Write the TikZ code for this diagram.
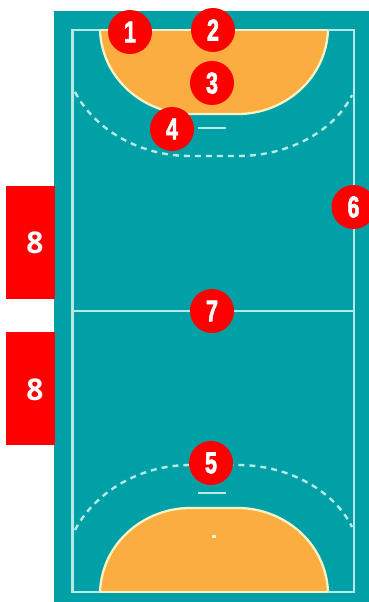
\documentclass[tikz,border=0pt]{standalone}
\usepackage{fontspec}
\setmainfont{Liberation Sans}
\newfontfamily\sidefont{Open Sans}
\newfontfamily\numfont[FakeBold=2.5]{Liberation Sans Bold}
\definecolor{court}{HTML}{00A0A6}
\definecolor{area}{HTML}{FBAD3F}
\definecolor{courtline}{HTML}{B5EAE6}
\definecolor{arealine}{HTML}{F5F3C8}
\definecolor{badge}{HTML}{FF0000}
\tikzset{
  x=1pt,y=-1pt,
  courtmark/.style={draw=courtline,line width=2.3pt},
  freeline/.style={draw=courtline,line width=2.4pt,dash pattern=on 6pt off 5pt},
  areashape/.style={fill=area,draw=arealine,line width=2.3pt},
  numdot/.style={circle,fill=badge,text=white,minimum size=44pt,inner sep=0pt,
    font=\numfont\fontsize{30}{30}\selectfont},
  sidebox/.style={fill=badge,draw=none,minimum width=49pt,minimum height=113pt,inner sep=0pt},
  sidelabel/.style={text=white,inner sep=0pt,font=\sidefont\fontsize{30}{30}\selectfont\bfseries}
}
\newcommand{\digit}[1]{\scalebox{0.72}[1]{#1}}
\begin{document}
\begin{tikzpicture}
\clip (0,0) rectangle (369,602);
\fill[white] (0,0) rectangle (369,602);
\fill[court] (54,11) rectangle (369,602);
% goal areas
\draw[areashape] (100,30) .. controls (102,80) and (145,114) .. (190,114) -- (238,114)
  .. controls (283,114) and (326,80) .. (328,30);
\draw[areashape] (100,592) .. controls (102,542) and (145,508) .. (190,508) -- (238,508)
  .. controls (283,508) and (326,542) .. (328,592);
% court outline
\draw[courtmark] (72.5,30) rectangle (354,592);
\draw[courtmark] (72.5,311) -- (354,311);
\draw[draw=arealine,line width=2.3pt] (100,30) -- (328,30);
\draw[draw=arealine,line width=2.3pt] (100,592) -- (328,592);
% free throw lines
\draw[freeline] (75,92) .. controls (95,130) and (140,156) .. (190,156) -- (238,156)
  .. controls (290,156) and (335,130) .. (352,95);
\draw[freeline] (75,530) .. controls (95,492) and (140,465) .. (190,465) -- (238,465)
  .. controls (290,465) and (335,492) .. (352,527);
% seven metre lines and penalty mark
\draw[courtmark] (198,128) -- (226,128);
\draw[courtmark] (198,493) -- (226,493);
\fill[arealine] (212,535) rectangle (216,537.5);
% numbers
\node[numdot] (n1) at (130,32) {\digit{1}};
\node[numdot] (n2) at (213,30) {\digit{2}};
\node[numdot] (n3) at (212,83) {\digit{3}};
\node[numdot] (n4) at (172,129) {\digit{4}};
\node[numdot] (n5) at (211,463) {\digit{5}};
\node[numdot] (n6) at (353.5,207) {\digit{6}};
\node[numdot] (n7) at (212,311) {\digit{7}};
% substitution zones
\node[sidebox] (b1) at (30.5,242.5) {};
\node[sidebox] (b2) at (30.5,388.5) {};
\node[sidelabel] (l1) at (35,243) {8};
\node[sidelabel] (l2) at (35,390) {8};
\end{tikzpicture}
\end{document}
